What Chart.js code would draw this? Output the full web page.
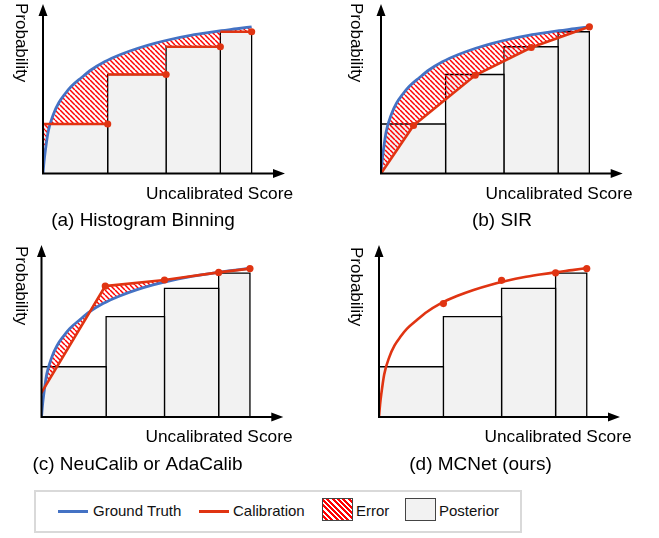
<!DOCTYPE html>
<html>
<head>
<meta charset="utf-8">
<script src="https://cdn.jsdelivr.net/npm/chart.js@4.4.1/dist/chart.umd.min.js"></script>
<style>
  body { margin: 0; background: #fff; font-family: "Liberation Sans", Arial, sans-serif; }
  #wrap { position: relative; width: 659px; height: 538px; }
  canvas { position: absolute; }
  #legend { position: absolute; left: 34px; top: 490px; width: 484px; height: 39px; border: 2px solid #d9d9d9; }
  #legend .it { position: absolute; font-size: 15px; color: #111; top: 10px; }
  #legend .ln { position: absolute; height: 3px; width: 30px; top: 18px; }
  #legend .sw { position: absolute; top: 6px; width: 29px; height: 21px; border: 1px solid #444; }
</style>
</head>
<body>
<div id="wrap">
  <canvas id="pa" width="330" height="235" style="left:0;top:0"></canvas>
  <canvas id="pb" width="329" height="235" style="left:330px;top:0"></canvas>
  <canvas id="pc" width="330" height="245" style="left:0;top:235px"></canvas>
  <canvas id="pd" width="329" height="245" style="left:330px;top:235px"></canvas>
  <div id="legend">
    <div class="ln" style="left:22px;background:#4472c4"></div>
    <div class="it" style="left:57px">Ground Truth</div>
    <div class="ln" style="left:163px;background:#e03412"></div>
    <div class="it" style="left:197px">Calibration</div>
    <div class="sw" style="left:286px;background:repeating-linear-gradient(45deg,#fff 0 1.6px,#ff0000 1.6px 3.8px)"></div>
    <div class="it" style="left:320px">Error</div>
    <div class="sw" style="left:369px;background:#f2f2f2"></div>
    <div class="it" style="left:403px">Posterior</div>
  </div>
</div>
<script>
// bins of the uncalibrated score and their posterior (bar heights)
const binEdges  = [0, 31, 59, 85, 100];
const posterior = [33, 66, 84.5, 94.5];

// ground truth curve
const gtX = [0, 0.5, 1.1, 2.5, 5, 7.5, 10.5, 13.5, 18.5, 23, 29.5, 37.5, 45.5, 53.5, 61.5, 69.5, 77.5, 85.5, 93, 100];
const gtY = [0, 8, 15, 28, 39.5, 47, 53, 58, 64, 69, 74.5, 79.5, 83.5, 86.8, 89.5, 91.8, 93.6, 95.2, 96.5, 97.8];

// (a) histogram binning: one value per bin
const histCalib = [33, 66, 84.5, 94.5];
// (b) SIR
const sirX = [0, 15.6, 45.2, 72.1, 100];
const sirY = [0, 32, 65.5, 84, 97.8];
// (c) NeuCalib / AdaCalib
const neuX = [0, 30.6, 59, 85, 100];
const neuY = [16, 86, 90, 95, 97.5];
// (d) MCNet: follows the ground truth, with knots at the bin edges
const mcX = gtX;
const mcY = gtY;
const mcDotX = [31, 59, 85, 100];
const mcDotY = [74.5, 89.8, 94.7, 97.5];

const BLUE = '#4472c4';
const RED = '#e03412';

function makeHatch() {
  const c = document.createElement('canvas');
  c.width = 5; c.height = 5;
  const g = c.getContext('2d');
  g.strokeStyle = '#ff0000';
  g.lineWidth = 1.5;
  for (let k = -1; k <= 1; k++) {
    g.beginPath();
    g.moveTo(k * 5, 0);
    g.lineTo(k * 5 + 5, 5);
    g.stroke();
  }
  return g.createPattern(c, 'repeat');
}
const hatch = makeHatch();

const pts = (xs, ys) => xs.map((x, i) => ({ x: x, y: ys[i] }));

function barSets() {
  return posterior.map((h, i) => ({
    data: [{ x: binEdges[i], y: 0 }, { x: binEdges[i], y: h }, { x: binEdges[i + 1], y: h }, { x: binEdges[i + 1], y: 0 }],
    borderColor: '#000', borderWidth: 1.3, backgroundColor: '#f2f2f2',
    fill: 'origin', pointRadius: 0, tension: 0
  }));
}

function gtSet(target) {
  return {
    data: pts(gtX, gtY), borderColor: BLUE, borderWidth: 2.8, pointRadius: 0,
    cubicInterpolationMode: 'monotone',
    fill: { target: target, above: hatch, below: hatch }
  };
}

const deco = {
  id: 'panelDeco',
  afterDatasetsDraw(chart, args, o) {
    const ctx = chart.ctx, a = chart.chartArea;
    const ox = a.left, oy = a.bottom;
    ctx.save();
    ctx.strokeStyle = '#000';
    ctx.fillStyle = '#000';
    ctx.lineWidth = 2;
    ctx.beginPath();
    ctx.moveTo(ox, oy); ctx.lineTo(ox, a.top + 10);
    ctx.moveTo(ox - 1, oy); ctx.lineTo(a.right - 10, oy);
    ctx.stroke();
    ctx.beginPath();
    ctx.moveTo(ox, a.top); ctx.lineTo(ox - 4.5, a.top + 12); ctx.lineTo(ox + 4.5, a.top + 12); ctx.closePath();
    ctx.moveTo(a.right, oy); ctx.lineTo(a.right - 12, oy - 4.5); ctx.lineTo(a.right - 12, oy + 4.5); ctx.closePath();
    ctx.fill();
    ctx.restore();
  },
  afterDraw(chart, args, o) {
    const ctx = chart.ctx;
    ctx.save();
    ctx.fillStyle = '#000';
    ctx.textBaseline = 'alphabetic';
    ctx.font = '17.3px "Liberation Sans", Arial, sans-serif';
    ctx.textAlign = 'right';
    ctx.fillText('Uncalibrated Score', o.scoreX, o.scoreY);
    ctx.font = '19px "Liberation Sans", Arial, sans-serif';
    ctx.textAlign = 'center';
    ctx.fillText(o.caption, o.capX, o.capY);
    ctx.font = '17px "Liberation Sans", Arial, sans-serif';
    ctx.textAlign = 'left';
    ctx.translate(o.probX, o.probY);
    ctx.rotate(Math.PI / 2);
    ctx.fillText('Probability', 0, 0);
    ctx.restore();
  }
};

function panel(id, lay, datasets) {
  const cv = document.getElementById(id);
  new Chart(cv, {
    type: 'line',
    data: { datasets: datasets },
    options: {
      responsive: false,
      animation: false,
      layout: { padding: { left: lay.ox, right: cv.width - lay.xTip, top: lay.yTip, bottom: cv.height - lay.oy } },
      scales: {
        x: { type: 'linear', display: false, min: 0, max: 116 },
        y: { type: 'linear', display: false, min: 0, max: 113 }
      },
      plugins: { legend: { display: false }, tooltip: { enabled: false }, panelDeco: lay }
    },
    plugins: [deco]
  });
}

// (a) Histogram Binning
const stepX = [], stepY = [], stepR = [];
histCalib.forEach((v, i) => {
  stepX.push(binEdges[i], binEdges[i + 1]);
  stepY.push(v, v);
  stepR.push(0, 3.6);
});
panel('pa', { ox: 43, oy: 173.5, xTip: 285, yTip: 4, caption: '(a) Histogram Binning', capX: 143, capY: 226, scoreX: 293, scoreY: 198.5, probX: 15.5, probY: 3 }, [
  {
    data: pts(stepX, stepY), borderColor: RED, borderWidth: 2.6, tension: 0,
    pointRadius: stepR, pointBackgroundColor: RED, pointBorderWidth: 0,
    segment: { borderColor: c => c.p0.parsed.x === c.p1.parsed.x ? 'rgba(0,0,0,0)' : RED }
  },
  gtSet(0),
  ...barSets()
]);

// (b) SIR
panel('pb', { ox: 51, oy: 173.5, xTip: 292.7, yTip: 4, caption: '(b) SIR', capX: 172, capY: 226, scoreX: 302.5, scoreY: 198.5, probX: 21, probY: 3 }, [
  {
    data: pts(sirX, sirY), borderColor: RED, borderWidth: 2.6, tension: 0,
    pointRadius: sirX.map((x, i) => i === 0 ? 0 : 3.6), pointBackgroundColor: RED, pointBorderWidth: 0
  },
  gtSet(0),
  ...barSets()
]);

// (c) NeuCalib or AdaCalib
panel('pc', { ox: 41.5, oy: 182, xTip: 283.3, yTip: 10, caption: '(c) NeuCalib or AdaCalib', capX: 137.5, capY: 235, scoreX: 292.5, scoreY: 207, probX: 15.5, probY: 11 }, [
  {
    data: pts(neuX, neuY), borderColor: RED, borderWidth: 2.6, tension: 0,
    pointRadius: neuX.map((x, i) => i === 0 ? 0 : 3.6), pointBackgroundColor: RED, pointBorderWidth: 0
  },
  gtSet(0),
  ...barSets()
]);

// (d) MCNet (ours)
panel('pd', { ox: 49, oy: 182, xTip: 290, yTip: 10, caption: '(d) MCNet (ours)', capX: 150.5, capY: 235, scoreX: 301.5, scoreY: 207, probX: 21, probY: 12 }, [
  {
    data: pts(mcDotX, mcDotY), showLine: false,
    pointRadius: 3.6, pointBackgroundColor: RED, pointBorderWidth: 0
  },
  {
    data: pts(mcX, mcY), borderColor: RED, borderWidth: 2.6, pointRadius: 0,
    cubicInterpolationMode: 'monotone'
  },
  ...barSets()
]);
</script>
</body>
</html>
